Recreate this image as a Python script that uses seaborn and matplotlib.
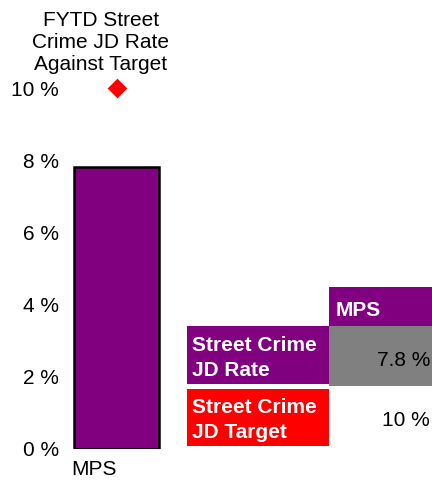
import matplotlib
matplotlib.use("Agg")
import matplotlib.pyplot as plt
import matplotlib.transforms as mtransforms
from matplotlib.patches import Rectangle
import seaborn as sns

# chart values
areas = ["MPS"]
jd_rate = [7.8]
jd_target = [10]
y_ticks = [0, 2, 4, 6, 8, 10]
title_text = "FYTD Street\nCrime JD Rate\nAgainst Target"
row_labels = ["Street Crime\nJD Rate", "Street Crime\nJD Target"]

PURPLE = "#800080"
RED = "#FF0000"
GREY = "#808080"

sns.set_style("white")
plt.rcParams['font.family'] = ['Liberation Sans', 'DejaVu Sans']
plt.rcParams['text.color'] = 'black'
plt.rcParams['xtick.color'] = 'black'
plt.rcParams['ytick.color'] = 'black'

fig = plt.figure(figsize=(4.32, 4.87), dpi=100)
W, H = 432, 487

# main plot area, placed in pixels
ax_left, ax_right = 63.4, 169.6
ax_bottom, ax_top = 449, 73.6
ax = fig.add_axes([ax_left / W, (H - ax_bottom) / H,
                   (ax_right - ax_left) / W, (ax_bottom - ax_top) / H])

sns.barplot(x=areas, y=jd_rate, color=PURPLE, saturation=1, width=0.8,
            edgecolor="black", linewidth=1.8, ax=ax)
sns.stripplot(x=areas, y=jd_target, jitter=False, marker="D", size=10,
              color=RED, linewidth=0, ax=ax, zorder=5)

ax.set_xlim(-0.5, 0.5)
ax.set_ylim(0, 10.4)
ax.set_yticks(y_ticks)
ax.set_yticklabels([f"{v} %" for v in y_ticks], fontsize=15)
# labels sit a little below their tick in the original
shift = mtransforms.ScaledTranslation(0, -3 / 72, fig.dpi_scale_trans)
for lbl in ax.get_yticklabels():
    lbl.set_transform(lbl.get_transform() + shift)
ax.set_xticks([0])
ax.set_xticklabels(areas, fontsize=15, ha="right")
ax.tick_params(axis="both", length=0, pad=3)
ax.tick_params(axis="x", pad=8)
ax.set_xlabel("")
ax.set_ylabel("")
for s in ax.spines.values():
    s.set_visible(False)
ax.patch.set_alpha(0)

# overlay for title and data table, in pixel coordinates
ov = fig.add_axes([0, 0, 1, 1], zorder=3)
ov.set_xlim(0, W)
ov.set_ylim(H, 0)
ov.axis("off")

t = ov.text(101, 43, title_text, ha="center", va="center", fontsize=15,
            linespacing=1.2, multialignment="center")
t.set_clip_path(Rectangle((0, 0), W, 74, transform=ov.transData))

# table cells
ov.add_patch(Rectangle((329, 287), 103, 39, color=PURPLE, lw=0))
ov.add_patch(Rectangle((187, 326), 142, 58, color=PURPLE, lw=0))
ov.add_patch(Rectangle((329, 326), 103, 60, color=GREY, lw=0))
ov.add_patch(Rectangle((187, 389), 142, 57, color=RED, lw=0))

ov.text(336, 310, areas[0], ha="left", va="center", fontsize=15,
        fontweight="bold", color="white")
ov.text(192, 358, row_labels[0], ha="left", va="center", fontsize=15,
        fontweight="bold", color="white", linespacing=1.4)
ov.text(192, 420, row_labels[1], ha="left", va="center", fontsize=15,
        fontweight="bold", color="white", linespacing=1.4)
ov.text(430, 361, f"{jd_rate[0]} %", ha="right", va="center", fontsize=15)
ov.text(430, 420, f"{jd_target[0]} %", ha="right", va="center", fontsize=15)

fig.savefig("out.png", dpi=100)
